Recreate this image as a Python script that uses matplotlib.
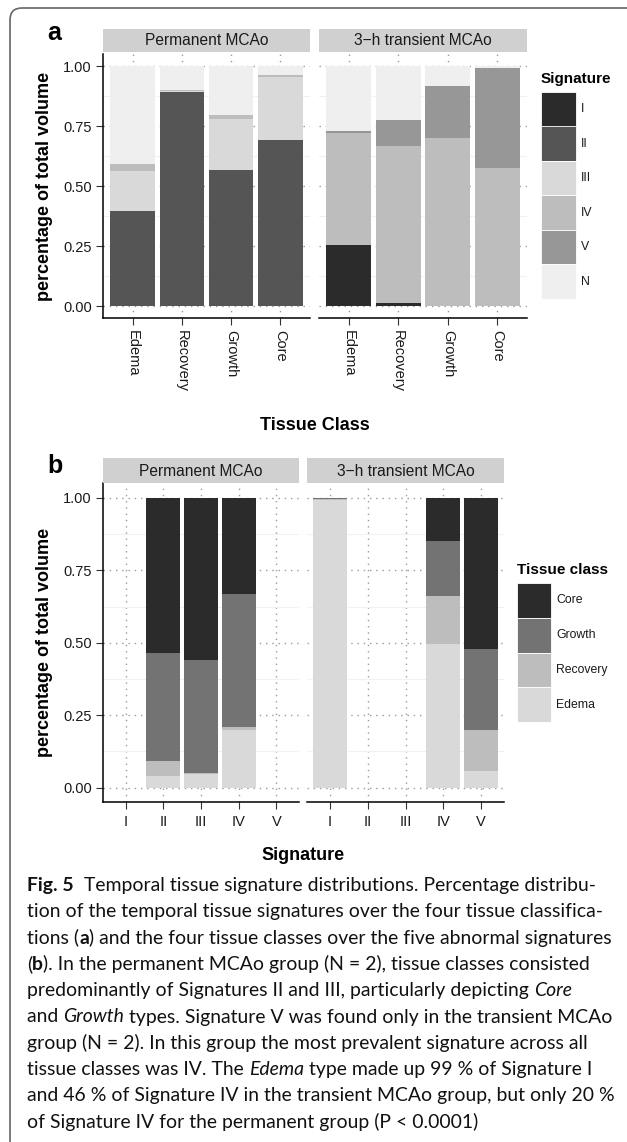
import matplotlib
matplotlib.use("Agg")
import matplotlib.pyplot as plt
import matplotlib.patches as mpatches
from matplotlib.ticker import FixedLocator
import numpy as np

W, H = 627, 1142
plt.rcParams["font.family"] = ["Liberation Sans", "DejaVu Sans"]

# ---- panel a: signatures per tissue class ----
tissue_classes = ["Edema", "Recovery", "Growth", "Core"]
signatures = ["I", "II", "III", "IV", "V", "N"]
sig_colors = ["#2b2b2b", "#555555", "#d9d9d9", "#bdbdbd", "#979797", "#efefef"]

perm_I = [0.0, 0.0, 0.0, 0.0]
perm_II = [0.397, 0.89, 0.565, 0.69]
perm_III = [0.165, 0.004, 0.215, 0.265]
perm_IV = [0.028, 0.008, 0.015, 0.007]
perm_V = [0.0, 0.0, 0.0, 0.0]
perm_N = [0.41, 0.098, 0.205, 0.038]

trans_I = [0.255, 0.011, 0.0, 0.0]
trans_II = [0.0, 0.0, 0.0, 0.0]
trans_III = [0.0, 0.0, 0.0, 0.0]
trans_IV = [0.465, 0.655, 0.70, 0.575]
trans_V = [0.01, 0.11, 0.215, 0.415]
trans_N = [0.27, 0.224, 0.085, 0.01]

# ---- panel b: tissue classes per signature ----
sig_levels = ["I", "II", "III", "IV", "V"]
class_order = ["Edema", "Recovery", "Growth", "Core"]   # stacking order, bottom first
class_colors = ["#d9d9d9", "#bdbdbd", "#737373", "#2b2b2b"]

permb_edema = [0.0, 0.04, 0.048, 0.198, 0.0]
permb_recovery = [0.0, 0.05, 0.002, 0.011, 0.0]
permb_growth = [0.0, 0.375, 0.39, 0.461, 0.0]
permb_core = [0.0, 0.535, 0.56, 0.33, 0.0]

transb_edema = [0.993, 0.0, 0.0, 0.495, 0.057]
transb_recovery = [0.004, 0.0, 0.0, 0.168, 0.141]
transb_growth = [0.003, 0.0, 0.0, 0.189, 0.28]
transb_core = [0.0, 0.0, 0.0, 0.148, 0.522]

groups = ["Permanent MCAo", "3\u2212h transient MCAo"]
yticks = [0.0, 0.25, 0.5, 0.75, 1.0]
ytick_labels = ["0.00", "0.25", "0.50", "0.75", "1.00"]

fig = plt.figure(figsize=(W / 100, H / 100), dpi=100)
fig.patch.set_facecolor("white")


def box(l, t, r, b):
    """pixel box (top-left origin) -> figure fraction rect"""
    return [l / W, 1 - b / H, (r - l) / W, (b - t) / H]


def strip(l, t, r, b, label):
    sax = fig.add_axes(box(l, t, r, b))
    sax.set_facecolor("#d0d0d0")
    sax.set_xticks([])
    sax.set_yticks([])
    for s in sax.spines.values():
        s.set_visible(False)
    sax.text(0.5, 0.48, label, ha="center", va="center", fontsize=11.2,
             color="#1a1a1a", transform=sax.transAxes)


def panel(rect, n, first, cats, rot):
    ax = fig.add_axes(box(*rect))
    ax.set_xlim(-0.6, n - 0.4)
    ax.set_ylim(-0.05, 1.05)
    ax.set_axisbelow(True)
    ax.yaxis.set_major_locator(FixedLocator(yticks))
    ax.yaxis.set_minor_locator(FixedLocator([0.125, 0.375, 0.625, 0.875]))
    ax.grid(True, which="minor", axis="y", color="#f1f1f1", lw=0.8)
    ax.grid(True, which="major", color="#9a9a9a", lw=1.0, linestyle=(0, (1, 3.5)))
    ax.set_xticks(np.arange(n))
    ax.set_xticklabels(cats, rotation=rot, fontsize=10.5, color="#1a1a1a",
                       va="top", ha="center")
    for s in ["top", "right"]:
        ax.spines[s].set_visible(False)
    ax.spines["bottom"].set_linewidth(1.1)
    ax.tick_params(axis="x", length=5, width=0.8, color="#333333", pad=4)
    if first:
        ax.set_yticklabels(ytick_labels, fontsize=10.5, color="#1a1a1a")
        ax.spines["left"].set_linewidth(1.1)
        ax.tick_params(axis="y", which="major", length=5, width=0.8,
                       color="#333333", pad=3)
        ax.tick_params(axis="y", which="minor", length=0)
    else:
        ax.spines["left"].set_visible(False)
        ax.tick_params(axis="y", which="both", length=0, labelleft=False)
    return ax


def stacked(ax, series, colors):
    x = np.arange(len(series[0]))
    bottom = np.zeros(len(x))
    for vals, c in zip(series, colors):
        v = np.array(vals)
        ax.bar(x, v, bottom=bottom, width=0.9, color=c, linewidth=0)
        bottom += v


def key_legend(colors, labels, title, left, top, kw, kh):
    """ggplot-like stacked key legend, placed in pixel coordinates"""
    fig.text(left / W, 1 - (top - 13) / H, title, ha="left", va="center",
             fontsize=11, fontweight="bold")
    for k, (c, lab) in enumerate(zip(colors, labels)):
        y0 = top + k * kh
        fig.patches.append(mpatches.Rectangle(
            (left / W, 1 - (y0 + kh) / H), kw / W, kh / H,
            facecolor=c, edgecolor="white", linewidth=0.6,
            transform=fig.transFigure))
        fig.text((left + kw + 5) / W, 1 - (y0 + kh / 2) / H, lab,
                 ha="left", va="center", fontsize=8.8, color="#1a1a1a")


# ---- panel a ----
a_series = [
    [perm_I, perm_II, perm_III, perm_IV, perm_V, perm_N],
    [trans_I, trans_II, trans_III, trans_IV, trans_V, trans_N],
]
a_rects = [(103, 54, 310, 318), (319, 54, 527, 318)]
a_strips = [(103, 29, 310, 52), (319, 29, 527, 52)]
for i in range(2):
    ax = panel(a_rects[i], 4, i == 0, tissue_classes, -90)
    stacked(ax, a_series[i], sig_colors)
    strip(*a_strips[i], groups[i])

fig.text(45 / W, 1 - 186 / H, "percentage of total volume", rotation=90,
         ha="center", va="center", fontsize=13, fontweight="bold")
fig.text(315 / W, 1 - 425 / H, "Tissue Class", ha="center", va="center",
         fontsize=13, fontweight="bold")
fig.text(47 / W, 1 - 33 / H, "a", ha="left", va="center", fontsize=18,
         fontweight="bold")

key_legend(sig_colors, signatures, "Signature", 541, 92, 35, 34.5)

# ---- panel b ----
b_series = [
    [permb_edema, permb_recovery, permb_growth, permb_core],
    [transb_edema, transb_recovery, transb_growth, transb_core],
]
b_rects = [(103, 483.5, 299, 802), (307, 483.5, 504, 802)]
b_strips = [(103, 458, 299, 483), (307, 458, 504, 483)]
for i in range(2):
    ax = panel(b_rects[i], 5, i == 0, sig_levels, 0)
    stacked(ax, b_series[i], class_colors)
    strip(*b_strips[i], groups[i])

fig.text(45 / W, 1 - 642 / H, "percentage of total volume", rotation=90,
         ha="center", va="center", fontsize=13, fontweight="bold")
fig.text(303 / W, 1 - 855 / H, "Signature", ha="center", va="center",
         fontsize=13, fontweight="bold")
fig.text(47 / W, 1 - 466 / H, "b", ha="left", va="center", fontsize=18,
         fontweight="bold")

key_legend(class_colors[::-1], class_order[::-1], "Tissue class", 517, 583, 34, 34.75)

# ---- outer rounded frame (cropped at right/bottom like the source) ----
frame = mpatches.FancyBboxPatch((10 / 100, -0.3), 7.0, (H - 8) / 100 + 0.3,
                                boxstyle="round,pad=0,rounding_size=0.12",
                                transform=fig.dpi_scale_trans, fill=False,
                                edgecolor="#666666", linewidth=1.2)
fig.patches.append(frame)

# ---- caption ----
cap_font = ["Lato", "DejaVu Sans"]
caption = [
    [("Fig. 5", "bold"), ("  Temporal tissue signature distributions. Percentage distribu-", "normal")],
    [("tion of the temporal tissue signatures over the four tissue classifica-", "normal")],
    [("tions (", "normal"), ("a", "bold"), (") and the four tissue classes over the five abnormal signatures", "normal")],
    [("(", "normal"), ("b", "bold"), ("). In the permanent MCAo group (N = 2), tissue classes consisted", "normal")],
    [("predominantly of Signatures II and III, particularly depicting ", "normal"), ("Core", "italic")],
    [("and ", "normal"), ("Growth", "italic"), (" types. Signature V was found only in the transient MCAo", "normal")],
    [("group (N = 2). In this group the most prevalent signature across all", "normal")],
    [("tissue classes was IV. The ", "normal"), ("Edema", "italic"), (" type made up 99 % of Signature I", "normal")],
    [("and 46 % of Signature IV in the transient MCAo group, but only 20 %", "normal")],
    [("of Signature IV for the permanent group (P < 0.0001)", "normal")],
]

renderer = fig.canvas.get_renderer()


def style_kw(style):
    if style == "bold":
        return {"fontweight": "bold"}
    if style == "italic":
        return {"fontstyle": "italic"}
    return {}


def measure(s, style, size):
    t = fig.text(0, 0, "|" + s + "|", fontsize=size, family=cap_font, **style_kw(style))
    w = t.get_window_extent(renderer).width
    t.remove()
    t = fig.text(0, 0, "||", fontsize=size, family=cap_font, **style_kw(style))
    w -= t.get_window_extent(renderer).width
    t.remove()
    return w


ref_w = sum(measure(s, st, 10) for s, st in caption[2])
cap_size = 10 * 583 / ref_w

for i, line in enumerate(caption):
    x = 27
    yb = 891 + i * 26.3
    for s, st in line:
        fig.text(x / W, 1 - yb / H, s, fontsize=cap_size, family=cap_font,
                 va="baseline", ha="left", color="#111111", **style_kw(st))
        x += measure(s, st, cap_size)

fig.savefig("out.png", dpi=100)
